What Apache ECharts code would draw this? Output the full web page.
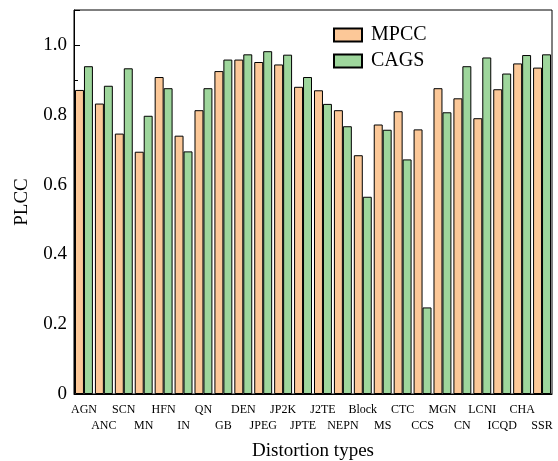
<!DOCTYPE html>
<html>
<head>
<meta charset="utf-8">
<script src="https://cdn.jsdelivr.net/npm/echarts@6/dist/echarts.min.js"></script>
<style>
  html, body { margin: 0; padding: 0; background: #fff; }
  #chart { width: 558px; height: 461px; }
</style>
</head>
<body>
<div id="chart"></div>
<script>
// distortion types (TID2013)
var categories = ['AGN', 'ANC', 'SCN', 'MN', 'HFN', 'IN', 'QN', 'GB', 'DEN', 'JPEG', 'JP2K', 'JPTE',
  'J2TE', 'NEPN', 'Block', 'MS', 'CTC', 'CCS', 'MGN', 'CN', 'LCNI', 'ICQD', 'CHA', 'SSR']
var mpcc = [0.871, 0.832, 0.746, 0.694, 0.908, 0.740, 0.813, 0.925, 0.958, 0.951, 0.944, 0.880,
  0.870, 0.813, 0.684, 0.772, 0.810, 0.758, 0.876, 0.847, 0.790, 0.873, 0.947, 0.935]
var cags = [0.939, 0.883, 0.933, 0.797, 0.876, 0.695, 0.876, 0.958, 0.973, 0.982, 0.972, 0.908,
  0.831, 0.767, 0.565, 0.757, 0.672, 0.248, 0.807, 0.939, 0.964, 0.918, 0.971, 0.973]
var yTicks = [0, 0.2, 0.4, 0.6, 0.8, 1.0]

var font = 'Liberation Serif'
var chart = echarts.init(document.getElementById('chart'))

var option = {
  animation: false,
  textStyle: { fontFamily: font, color: '#000' },
  grid: {
    left: 74, right: 6, top: 10, bottom: 67,
    outerBoundsMode: 'none',
    show: true, borderColor: '#000', borderWidth: 1
  },
  legend: {
    orient: 'vertical',
    left: 333, top: 25,
    padding: 0,
    icon: 'rect',
    itemWidth: 28, itemHeight: 13, itemGap: 6,
    textStyle: { fontFamily: font, fontSize: 20, color: '#000', padding: [0, 0, 0, 4] },
    data: ['MPCC', 'CAGS']
  },
  xAxis: {
    type: 'category',
    data: categories,
    name: 'Distortion types',
    nameLocation: 'middle',
    nameGap: 48,
    nameTextStyle: { fontSize: 19, color: '#000', fontFamily: font },
    axisLine: { lineStyle: { color: '#000', width: 1 } },
    axisTick: { inside: true, length: 4, lineStyle: { color: '#000' } },
    axisLabel: {
      interval: 0, fontSize: 12, color: '#000', lineHeight: 16, margin: 8,
      formatter: function (v, i) { return i % 2 ? '\n' + v : v }
    }
  },
  yAxis: {
    type: 'value',
    min: 0, max: 1.1, interval: 0.2,
    name: 'PLCC',
    nameLocation: 'middle',
    nameGap: 42,
    nameTextStyle: { fontSize: 19, color: '#000', fontFamily: font },
    axisLine: { show: true, lineStyle: { color: '#000', width: 1 } },
    axisTick: { show: true, inside: true, length: 6, lineStyle: { color: '#000' } },
    minorTick: { show: true, splitNumber: 2, length: 4, lineStyle: { color: '#000' } },
    splitLine: { show: false },
    axisLabel: {
      fontSize: 19, color: '#000', margin: 7,
      formatter: function (v) {
        if (yTicks.indexOf(Math.round(v * 10) / 10) < 0) return ''
        return v === 0 ? '0' : v.toFixed(1)
      }
    }
  },
  series: [
    {
      name: 'MPCC', type: 'bar', data: mpcc,
      barGap: '0%', barCategoryGap: '10%',
      itemStyle: { color: '#FCC898', borderColor: '#000', borderWidth: 1 }
    },
    {
      name: 'CAGS', type: 'bar', data: cags,
      itemStyle: { color: '#9ED69C', borderColor: '#000', borderWidth: 1 }
    }
  ]
}
chart.setOption(option)
</script>
</body>
</html>
